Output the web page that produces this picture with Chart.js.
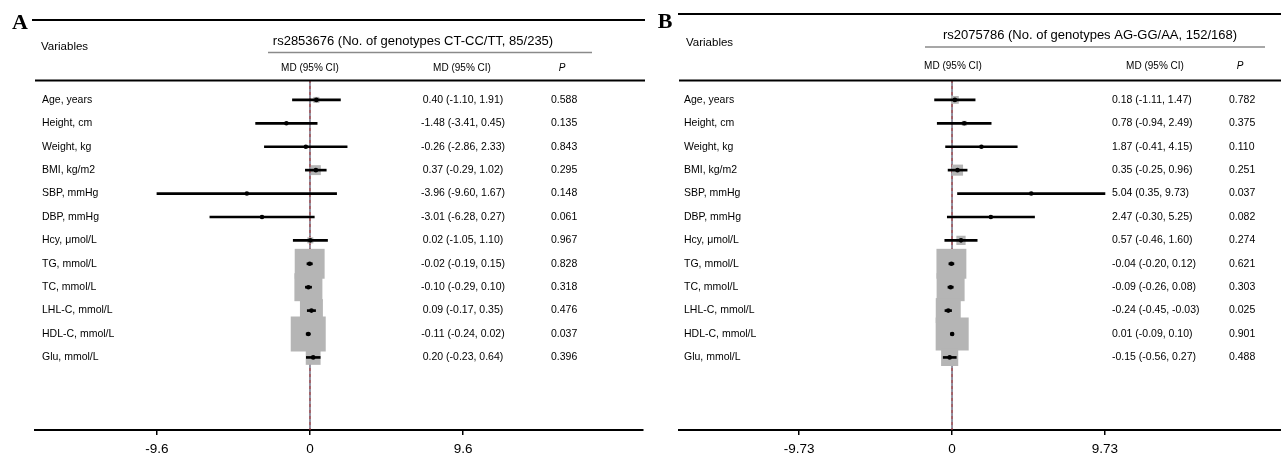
<!DOCTYPE html>
<html>
<head>
<meta charset="utf-8">
<script src="https://cdn.jsdelivr.net/npm/chart.js@4.4.1/dist/chart.umd.min.js"></script>
<style>
  html, body { margin: 0; padding: 0; background: #fff; }
  #wrap { position: relative; width: 1281px; height: 453px; overflow: hidden; }
  #panelA { position: absolute; left: 0; top: 0; }
  #panelB { position: absolute; left: 640px; top: 0; }
</style>
</head>
<body>
<div id="wrap">
  <canvas id="panelA" width="645" height="453"></canvas>
  <canvas id="panelB" width="641" height="453"></canvas>
</div>
<script>
// row labels (same for both panels)
const variables = ['Age, years', 'Height, cm', 'Weight, kg', 'BMI, kg/m2', 'SBP, mmHg', 'DBP, mmHg',
  'Hcy, \u03bcmol/L', 'TG, mmol/L', 'TC, mmol/L', 'LHL-C, mmol/L', 'HDL-C, mmol/L', 'Glu, mmol/L'];

// panel A: rs2853676
const titleA = 'rs2853676 (No. of genotypes CT-CC/TT, 85/235)';
const mdA = [0.40, -1.48, -0.26, 0.37, -3.96, -3.01, 0.02, -0.02, -0.10, 0.09, -0.11, 0.20];
const loA = [-1.10, -3.41, -2.86, -0.29, -9.60, -6.28, -1.05, -0.19, -0.29, -0.17, -0.24, -0.23];
const hiA = [1.91, 0.45, 2.33, 1.02, 1.67, 0.27, 1.10, 0.15, 0.10, 0.35, 0.02, 0.64];
const pA = ['0.588', '0.135', '0.843', '0.295', '0.148', '0.061', '0.967', '0.828', '0.318', '0.476', '0.037', '0.396'];
const weightA = [3, 0.7, 0.3, 8, 0.1, 0.3, 3, 73, 64, 43, 100, 18];   // relative box weight
const ticksA = [-9.6, 0, 9.6];

// panel B: rs2075786
const titleB = 'rs2075786 (No. of genotypes AG-GG/AA, 152/168)';
const mdB = [0.18, 0.78, 1.87, 0.35, 5.04, 2.47, 0.57, -0.04, -0.09, -0.24, 0.01, -0.15];
const loB = [-1.11, -0.94, -0.41, -0.25, 0.35, -0.30, -0.46, -0.20, -0.26, -0.45, -0.09, -0.56];
const hiB = [1.47, 2.49, 4.15, 0.96, 9.73, 5.25, 1.60, 0.12, 0.08, -0.03, 0.10, 0.27];
const pB = ['0.782', '0.375', '0.110', '0.251', '0.037', '0.082', '0.274', '0.621', '0.303', '0.025', '0.901', '0.488'];
const weightB = [5, 2, 0.7, 10, 0.1, 0.3, 7, 73, 64, 51, 89, 24];
const ticksB = [-9.73, 0, 9.73];

const SANS = "'Liberation Sans', Arial, sans-serif";
const SERIF = "'Liberation Serif', 'Times New Roman', serif";

function fmt(v) { return v.toFixed(2); }

function txt(ctx, s, x, y, font, align) {
  ctx.font = font;
  ctx.textAlign = align || 'left';
  ctx.textBaseline = 'middle';
  ctx.fillStyle = '#000';
  ctx.fillText(s, x, y);
}

function hline(ctx, x1, x2, y, w, color) {
  ctx.beginPath();
  ctx.moveTo(x1, y);
  ctx.lineTo(x2, y);
  ctx.lineWidth = w;
  ctx.strokeStyle = color;
  ctx.stroke();
}

function makePanel(id, letter, title, md, lo, hi, p, weight, ticks, L) {
  var rows = variables.map(function (v, i) { return i + 1; });

  var forestPlugin = {
    id: 'forest',
    beforeDatasetsDraw: function (chart) {
      var ctx = chart.ctx;
      var x0 = chart.scales.x.getPixelForValue(0);
      ctx.save();
      ctx.beginPath();
      ctx.moveTo(x0, chart.chartArea.top);
      ctx.lineTo(x0, chart.chartArea.bottom);
      ctx.lineWidth = 1;
      ctx.strokeStyle = '#2a2440';
      ctx.stroke();
      ctx.setLineDash([3, 3]);
      ctx.strokeStyle = '#b03a3a';
      ctx.stroke();
      ctx.restore();
    },
    afterDraw: function (chart) {
      var ctx = chart.ctx;
      var ys = chart.scales.y;
      ctx.save();
      // header
      txt(ctx, letter, L.letterX, L.letterY, 'bold 22px ' + SERIF, 'center');
      hline(ctx, L.topX1, L.topX2, L.topY, 2, '#000');
      txt(ctx, 'Variables', L.varX, L.varY, '11.5px ' + SANS);
      txt(ctx, title, L.titleX, L.titleY, '13px ' + SANS, 'center');
      hline(ctx, L.grayX1, L.grayX2, L.grayY, 1.5, '#8a8a8a');
      txt(ctx, 'MD (95% CI)', L.col1X, L.headY, '10px ' + SANS, 'center');
      txt(ctx, 'MD (95% CI)', L.col2X, L.headY, '10px ' + SANS, 'center');
      txt(ctx, 'P', L.pHeadX, L.headY, 'italic 10px ' + SANS, 'center');
      hline(ctx, L.thickX1, L.thickX2, L.thickY, 2, '#000');
      // rows
      for (var i = 0; i < variables.length; i++) {
        var y = ys.getPixelForValue(rows[i]);
        txt(ctx, variables[i], L.labX, y, '10.5px ' + SANS);
        txt(ctx, fmt(md[i]) + ' (' + fmt(lo[i]) + ', ' + fmt(hi[i]) + ')', L.mdX, y, '10.5px ' + SANS, L.mdAlign);
        txt(ctx, p[i], L.pX, y, '10.5px ' + SANS);
      }
      ctx.restore();
    }
  };

  return new Chart(document.getElementById(id), {
    type: 'bar',
    data: {
      datasets: [
        {
          type: 'scatter',
          label: 'dot',
          data: rows.map(function (r, i) { return { x: md[i], y: r }; }),
          pointStyle: 'circle',
          pointRadius: 2.3,
          backgroundColor: '#000',
          borderWidth: 0,
          order: 1
        },
        {
          label: 'CI',
          data: rows.map(function (r, i) { return { x: [lo[i], hi[i]], y: r }; }),
          backgroundColor: '#000',
          barThickness: 2,
          borderSkipped: false,
          order: 2
        },
        {
          type: 'scatter',
          label: 'weight',
          data: rows.map(function (r, i) { return { x: md[i], y: r }; }),
          pointStyle: 'rect',
          pointRadius: weight.map(function (w) { return 3.5 * Math.sqrt(w) / Math.SQRT2; }),
          backgroundColor: '#b5b5b5',
          borderWidth: 0,
          order: 3
        }
      ]
    },
    options: {
      indexAxis: 'y',
      responsive: false,
      animation: false,
      layout: { autoPadding: false, padding: { left: L.areaLeft, right: L.areaRight, top: 80, bottom: 0 } },
      plugins: { legend: { display: false }, tooltip: { enabled: false } },
      scales: {
        x: {
          type: 'linear',
          min: L.xMin,
          max: L.xMax,
          afterBuildTicks: function (s) { s.ticks = ticks.map(function (v) { return { value: v }; }); },
          afterFit: function (s) {
            s.height = 23;
            s.paddingLeft = 0;
            s.paddingRight = 0;
          },
          ticks: {
            autoSkip: false,
            maxRotation: 0,
            padding: 6,
            color: '#000',
            font: { family: SANS, size: 13.5 },
            callback: function (v) { return String(v); }
          },
          grid: { drawOnChartArea: false, drawTicks: true, tickLength: 5, color: '#000', lineWidth: 1.5 },
          border: { display: true, color: '#000', width: 2 }
        },
        y: {
          type: 'linear',
          display: false,
          reverse: true,
          offset: false,
          min: 0.15,
          max: 15.1
        }
      }
    },
    plugins: [forestPlugin]
  });
}

makePanel('panelA', 'A', titleA, mdA, loA, hiA, pA, weightA, ticksA, {
  areaLeft: 35, areaRight: 2, xMin: -17.25, xMax: 20.89,
  letterX: 20, letterY: 23, topX1: 32, topX2: 645, topY: 20,
  varX: 41, varY: 47, titleX: 413, titleY: 41,
  grayX1: 268, grayX2: 592, grayY: 52.5,
  col1X: 310, col2X: 462, pHeadX: 562, headY: 68,
  thickX1: 35, thickX2: 645, thickY: 80.5,
  labX: 42, mdX: 463, mdAlign: 'center', pX: 551
});

makePanel('panelB', 'B', titleB, mdB, loB, hiB, pB, weightB, ticksB, {
  areaLeft: 39, areaRight: 0, xMin: -17.37, xMax: 20.93,
  letterX: 25, letterY: 22, topX1: 38, topX2: 641, topY: 14,
  varX: 46, varY: 43, titleX: 450, titleY: 35,
  grayX1: 285, grayX2: 625, grayY: 47,
  col1X: 313, col2X: 515, pHeadX: 600, headY: 66,
  thickX1: 39, thickX2: 641, thickY: 80.5,
  labX: 44, mdX: 472, mdAlign: 'left', pX: 589
});
</script>
</body>
</html>
